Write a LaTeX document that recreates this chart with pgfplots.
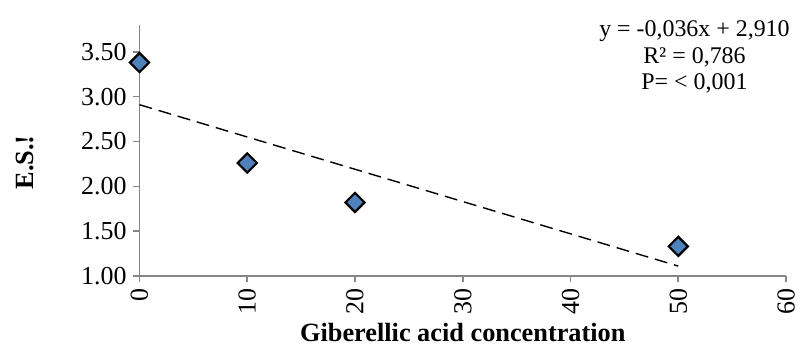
\documentclass[border=0pt]{standalone}
\usepackage{pgfplots}
\pgfplotsset{compat=1.18}
\usepackage{fontspec}
\setmainfont{Liberation Serif}
\definecolor{mblue}{HTML}{4F81BD}
\definecolor{axgray}{HTML}{868686}
\begin{document}
\begin{tikzpicture}
\useasboundingbox (-70pt,-38pt) rectangle (331.5pt,138.5pt);
\begin{axis}[
  scale only axis,
  width=324.5pt, height=126pt,
  xmin=0, xmax=60, ymin=1, ymax=3.8,
  xtick={0,10,...,60},
  ytick={1,1.5,...,3.5},
  axis x line*=bottom,
  axis y line*=left,
  axis line style={axgray, line width=0.8pt},
  tick style={axgray, line width=0.8pt},
  tick align=outside,
  major tick length=3pt,
  /pgf/number format/assume math mode=true,
  yticklabel style={font=\fontsize{13}{15}\selectfont, /pgf/number format/.cd, fixed, fixed zerofill, precision=2},
  xticklabel style={font=\fontsize{13}{15}\selectfont, rotate=90, anchor=east},
  xlabel={\textbf{Giberellic acid concentration}},
  xlabel style={font=\fontsize{13.2}{15}\selectfont, at={(axis description cs:0.5,0)}, anchor=base, yshift=-33pt},
  ylabel={\textbf{E.S.!}},
  ylabel style={font=\fontsize{13.2}{15}\selectfont, at={(axis description cs:-0.177,0.452)}, anchor=center, rotate=0},
  clip=false,
]
\addplot[black, dash pattern=on 6.5pt off 3.5pt, line width=0.7pt] coordinates {(0,2.910) (50,1.110)};
\addplot[only marks, mark=square*, mark size=3.4pt, mark options={rotate=45, fill=mblue, draw=black, line width=1.1pt}] coordinates {
(0,3.38) (10,2.26) (20,1.82) (50,1.33)};
\node[align=center, font=\fontsize{12}{13.5}\selectfont, anchor=north] at (axis cs:51.5,3.93) {y = -0,036x + 2,910\\R² = 0,786\\P= < 0,001};
\end{axis}
\end{tikzpicture}
\end{document}
